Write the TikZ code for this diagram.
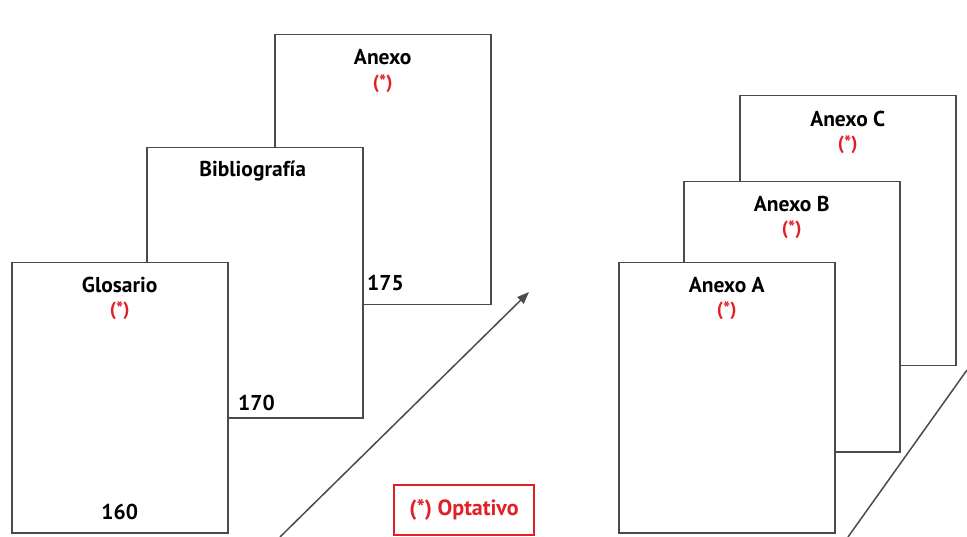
\documentclass[tikz,border=0pt]{standalone}
\usepackage{fontspec}
\setmainfont{PT Sans}
\usepackage{tikz}
\usetikzlibrary {arrows.meta,
                 positioning}
\definecolor{rojo}{RGB}{226,30,38}
\definecolor{borde}{RGB}{75,75,75}
\tikzset{
         hoja/.style={draw=borde, fill=white, line width=1.5pt, minimum width=216pt, minimum height=270pt, anchor=north west, inner sep=0pt},
         titulo/.style={font=\bfseries\fontsize{21.5}{25}\selectfont, anchor=base, inner sep=0pt},
         nota/.style={font=\bfseries\fontsize{19}{22}\selectfont, text=rojo, anchor=base, inner sep=0pt},
         flecha/.style={-{Triangle[length=12pt, width=9pt]}, draw=borde, line width=1.5pt},
         linea/.style={draw=borde, line width=1.5pt},
}

\begin{document}
\begin{tikzpicture}[x=1pt, y=-1pt]
    \useasboundingbox[fill=white] (0,0) rectangle (967,537);

    % Hojas izquierda
    \node[hoja] (anexo) at (274,34) {};
    \node[hoja] (biblio) at (146,147) {};
    \node[hoja] (glosario) at (11,262) {};

    \node[titulo] (anexo_t) at ([yshift=-31pt]anexo.north) {Anexo};
    \node[nota] (anexo_n) at ([yshift=-24pt]anexo_t.base) {(*)};
    \node[titulo, anchor=base west] (anexo_p) at ([xshift=93pt, yshift=15pt]anexo.south west) {175};

    \node[titulo] (biblio_t) at ([xshift=-2pt, yshift=-30pt]biblio.north) {Bibliografía};
    \node[titulo, anchor=base west] (biblio_p) at ([xshift=92pt, yshift=8pt]biblio.south west) {170};

    \node[titulo] (glosario_t) at ([yshift=-31pt]glosario.north) {Glosario};
    \node[nota] (glosario_n) at ([yshift=-23pt]glosario_t.base) {(*)};
    \node[titulo] (glosario_p) at ([yshift=14pt]glosario.south) {160};

    % Flecha
    \coordinate (flecha_ini) at (280,537);
    \coordinate (flecha_fin) at (529,292);
    \draw[flecha] (flecha_ini) -- (flecha_fin);

    % Optativo
    \node[draw=rojo, line width=1.2pt, minimum width=140pt, minimum height=50pt, inner sep=0pt, text=rojo, font=\bfseries\fontsize{22}{26}\selectfont] (optativo) at (464,510) {(*) Optativo};

    % Hojas derecha
    \node[hoja] (anexo_c) at (739,95) {};
    \node[hoja] (anexo_b) at (683,181) {};
    \node[hoja] (anexo_a) at (618,262) {};

    \node[titulo] (anexo_c_t) at ([yshift=-32pt]anexo_c.north) {Anexo C};
    \node[nota] (anexo_c_n) at ([yshift=-23pt]anexo_c_t.base) {(*)};
    \node[titulo] (anexo_b_t) at ([yshift=-31pt]anexo_b.north) {Anexo B};
    \node[nota] (anexo_b_n) at ([yshift=-23pt]anexo_b_t.base) {(*)};
    \node[titulo] (anexo_a_t) at ([yshift=-31pt]anexo_a.north) {Anexo A};
    \node[nota] (anexo_a_n) at ([yshift=-23pt]anexo_a_t.base) {(*)};

    % Linea
    \coordinate (linea_ini) at (848,537);
    \coordinate (linea_fin) at (967,370);
    \draw[linea] (linea_ini) -- (linea_fin);
\end{tikzpicture}
\end{document}
